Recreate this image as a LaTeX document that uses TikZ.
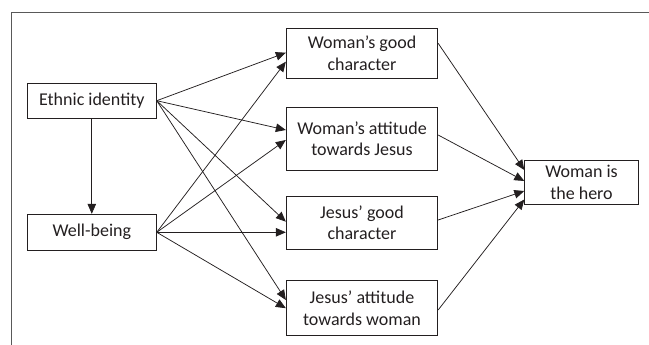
\documentclass[tikz,border=0pt]{standalone}
\usepackage{fontspec}
\setmainfont{Carlito}
\usetikzlibrary{arrows.meta}
\definecolor{ink}{HTML}{231F20}
\begin{document}
\begin{tikzpicture}[x=1pt,y=1pt,
  box/.style={draw=ink, line width=0.9pt, rectangle, inner sep=0pt, align=center,
    text=ink, font=\fontsize{18}{21.7}\selectfont, minimum width=151.4pt},
  link/.style={draw=ink, line width=0.75pt, -{Triangle[length=10pt,width=8.5pt]}}]
\useasboundingbox (0,0) rectangle (649,345);
\draw[line width=0.9pt, draw=black!65] (11.7,0) -- (11.7,332.7) -- (649,332.7);

\node[box, minimum width=129pt, minimum height=35.3pt] (eth) at (91.8,244.3) {Ethnic identity};
\node[box, minimum width=129pt, minimum height=36pt] (wb) at (91.8,112.7) {Well-being};
\node[box, minimum height=49.6pt] (wgc) at (362,291.5) {Woman’s good\\character};
\node[box, minimum height=62.7pt] (wat) at (362,206.3) {Woman’s attitude\\towards Jesus};
\node[box, minimum height=53.3pt] (jgc) at (362,122.3) {Jesus’ good\\character};
\node[box, minimum height=55pt] (jat) at (362,36.8) {Jesus’ attitude\\towards woman};
\node[box, minimum width=113.5pt, minimum height=43.7pt] (hero) at (581.5,162.8) {Woman is\\the hero};

\draw[link] (eth.south) -- (wb.north);

\draw[link] (eth.east) -- ([yshift=0.8pt]wgc.west);
\draw[link] (eth.east) -- ([yshift=8.7pt]wat.west);
\draw[link] (eth.east) -- ([yshift=1pt]jgc.west);
\draw[link] (eth.east) -- ([yshift=8.2pt]jat.west);

\draw[link] (wb.east) -- ([yshift=-8.2pt]wgc.west);
\draw[link] (wb.east) -- ([yshift=-1.3pt]wat.west);
\draw[link] (wb.east) -- ([yshift=-9.6pt]jgc.west);
\draw[link] (wb.east) -- (jat.west);

\draw[link] ([yshift=10.2pt]wgc.east) -- ([yshift=12.2pt]hero.west);
\draw[link] ([yshift=3.7pt]wat.east) -- ([yshift=1.2pt]hero.west);
\draw[link] ([yshift=2.7pt]jgc.east) -- ([yshift=-8.8pt]hero.west);
\draw[link] ([yshift=-1.8pt]jat.east) -- ([yshift=-17.3pt]hero.west);
\end{tikzpicture}
\end{document}
